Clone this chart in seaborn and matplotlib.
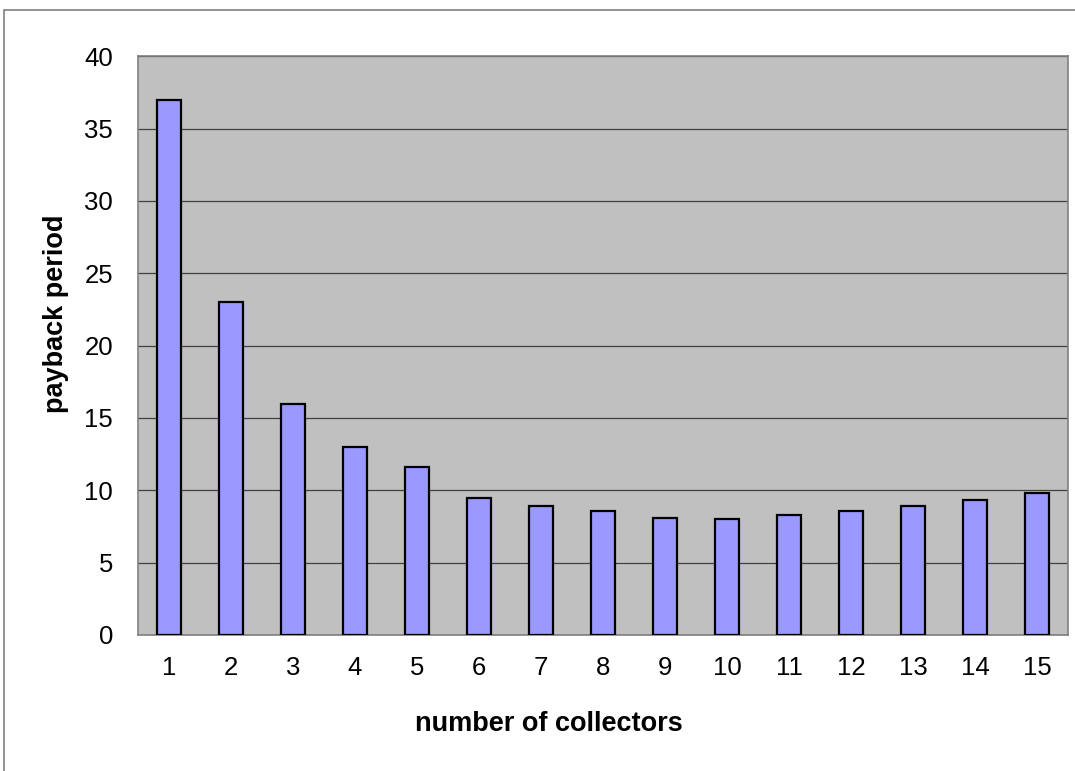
import matplotlib
matplotlib.use("Agg")
import matplotlib.pyplot as plt
from matplotlib.patches import Rectangle
from matplotlib.ticker import FixedLocator, NullFormatter
import seaborn as sns
import pandas as pd

collectors = [str(i) for i in range(1, 16)]
payback = [37.0, 23.0, 16.0, 13.0, 11.6, 9.5, 8.9, 8.6, 8.1, 8.0, 8.3, 8.6, 8.9, 9.3, 9.8]

df = pd.DataFrame({"collectors": collectors, "payback": payback})

sns.set_style("white")
plt.rcParams["font.family"] = ["Liberation Sans", "DejaVu Sans"]
plt.rcParams["text.color"] = "black"
plt.rcParams["axes.labelcolor"] = "black"
plt.rcParams["xtick.color"] = "black"
plt.rcParams["ytick.color"] = "black"

W, H = 1075, 771
fig = plt.figure(figsize=(W / 100, H / 100), dpi=100)
fig.patch.set_facecolor("white")

# outer chart frame (only its left and top edges fall inside the canvas)
fig.patches.append(Rectangle((4 / W, -0.2), 1.5, 1.2 - 10 / H, transform=fig.transFigure,
                             fill=False, edgecolor="#808080", linewidth=1.2))

left, right = 138 / W, 1068 / W
bottom, top = 1 - 635 / H, 1 - 56.3 / H
ax = fig.add_axes([left, bottom, right - left, top - bottom])
ax.set_facecolor("#C0C0C0")

sns.barplot(data=df, x="collectors", y="payback", ax=ax, color="#9999FF",
            saturation=1, width=0.4, edgecolor="black", linewidth=1.6, zorder=3)

ax.set_xlim(-0.5, len(collectors) - 0.5)
ax.set_ylim(0, 40)
ax.set_yticks(range(0, 41, 5))
ax.yaxis.grid(True, color="#404040", linewidth=0.9, zorder=1)
ax.set_axisbelow(True)

# category boundary ticks on the x axis, labels centred without ticks
ax.tick_params(axis="x", which="major", length=0, pad=15, labelsize=18.5, labelcolor="black")
ax.xaxis.set_minor_locator(FixedLocator([i - 0.5 for i in range(len(collectors) + 1)]))
ax.xaxis.set_minor_formatter(NullFormatter())
ax.tick_params(axis="x", which="minor", length=6, width=1, color="#808080", direction="out")
ax.tick_params(axis="y", length=6, width=1, color="#808080", direction="out", pad=12,
               labelsize=18.5, labelcolor="black")

for side in ["left", "bottom", "top", "right"]:
    ax.spines[side].set_color("#808080")
    ax.spines[side].set_linewidth(1.2)
    ax.spines[side].set_visible(True)

ax.set_xlabel("number of collectors", fontsize=19.5, fontweight="bold", va="center")
ax.set_ylabel("payback period", fontsize=19.5, fontweight="bold", va="center")
ax.xaxis.set_label_coords(0.442, -0.154)
ax.yaxis.set_label_coords(-0.088, 0.555)

fig.savefig("out.png", dpi=100)
